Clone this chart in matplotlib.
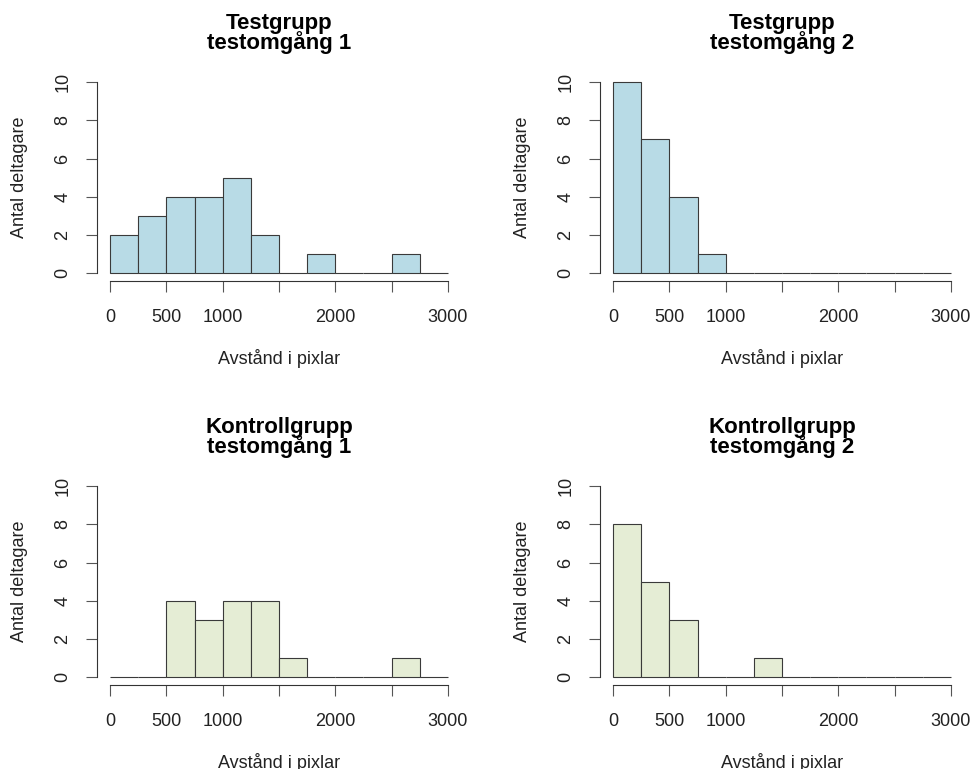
import numpy as np
import matplotlib
matplotlib.use("Agg")
import matplotlib.pyplot as plt

plt.rcParams['font.family'] = ['Liberation Sans', 'DejaVu Sans']

# Histogram bins: 250-pixel wide classes from 0 to 3000
bin_edges = np.arange(0, 3001, 250)

test_round1 = [2, 3, 4, 4, 5, 2, 0, 1, 0, 0, 1, 0]
test_round2 = [10, 7, 4, 1, 0, 0, 0, 0, 0, 0, 0, 0]
control_round1 = [0, 0, 4, 3, 4, 4, 1, 0, 0, 0, 1, 0]
control_round2 = [8, 5, 3, 0, 0, 1, 0, 0, 0, 0, 0, 0]

titles = ["Testgrupp\ntestomgång 1", "Testgrupp\ntestomgång 2",
          "Kontrollgrupp\ntestomgång 1", "Kontrollgrupp\ntestomgång 2"]
xticks = [0, 500, 1000, 1500, 2000, 2500, 3000]
xtick_labels = ["0", "500", "1000", "", "2000", "", "3000"]
yticks = [0, 2, 4, 6, 8, 10]
xlabel = "Avstånd i pixlar"
ylabel = "Antal deltagare"

blue = "#b8dbe6"
green = "#e5edd5"

W, H = 974, 769
fig = plt.figure(figsize=(W / 100, H / 100), dpi=100)

panels = [
    (test_round1, blue, 96.5, 74.4, 281.0),
    (test_round2, blue, 599.5, 74.4, 281.0),
    (control_round1, green, 96.5, 478.4, 685.0),
    (control_round2, green, 599.5, 478.4, 685.0),
]

for (counts, color, left_px, top_px, bottom_px), title in zip(panels, titles):
    ax = fig.add_axes([left_px / W, 1 - bottom_px / H, 365 / W,
                       (bottom_px - top_px) / H])
    ax.bar(bin_edges[:-1], counts, width=np.diff(bin_edges), align='edge',
           color=color, edgecolor='#3a3a3a', linewidth=0.8)
    ax.set_xlim(-120, 3120)
    ax.set_ylim(-0.4, 10.4)
    for side in ('top', 'right'):
        ax.spines[side].set_visible(False)
    ax.spines['left'].set_bounds(0, 10)
    ax.spines['bottom'].set_bounds(0, 3000)
    for side in ('left', 'bottom'):
        ax.spines[side].set_color('#333333')
        ax.spines[side].set_linewidth(0.8)
    ax.set_xticks(xticks)
    ax.set_xticklabels(xtick_labels)
    ax.set_yticks(yticks)
    ax.set_yticklabels([str(v) for v in yticks], rotation=90, va='center')
    ax.tick_params(axis='both', length=8, width=0.8, color='#555555',
                   labelsize=13, colors='#222222')
    ax.tick_params(axis='x', pad=12)
    ax.tick_params(axis='y', pad=10)
    ax.set_xlabel(xlabel, fontsize=13, color='#222222', labelpad=17)
    ax.set_ylabel(ylabel, fontsize=13, color='#222222', labelpad=19)
    ax.set_title(title, fontsize=16, fontweight='bold', linespacing=0.85,
                 pad=18)

fig.savefig("out.png", dpi=100)
